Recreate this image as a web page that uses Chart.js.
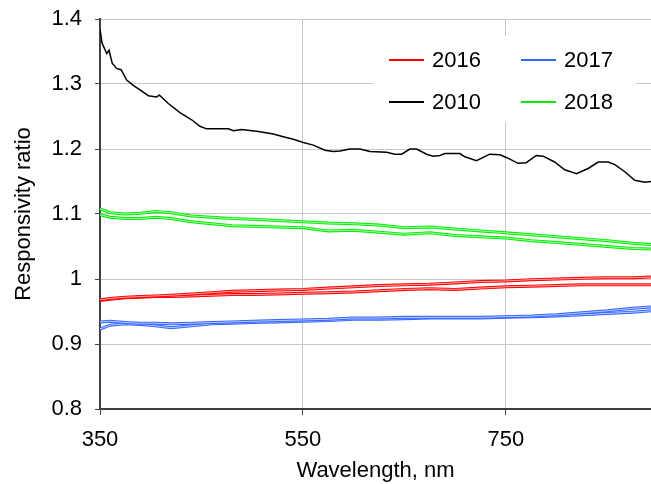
<!DOCTYPE html>
<html lang="en">
<head>
    <meta charset="UTF-8">
    <title>Responsivity ratio</title>
    <style>
        body { margin: 0; background: #fff; }
    </style>
</head>
<body>
    <canvas id="myChart" width="651" height="484"></canvas>
    <script src="https://cdn.jsdelivr.net/npm/chart.js"></script>
    <script>
        // ticks
        const xTicks = [350, 550, 750];
        const yTicks = [0.8, 0.9, 1, 1.1, 1.2, 1.3, 1.4];

        // 2010 curve (own wavelength grid, lots of wiggles)
        const wl2010 = [350, 352, 356.6, 358.9, 362, 366.4, 370.7, 376.3, 382.8, 389.4, 397.6, 405.8, 408.4, 417.3, 428.8, 440.3,
            448.5, 455, 476.5, 481.4, 489.6, 506, 520.8, 530.6, 540.5, 550.3, 560.2, 571.7, 579.9, 586.5, 596.3, 606.2,
            616, 632.5, 640.6, 647.2, 655.4, 662, 671.8, 678.4, 685, 689.9, 704.7, 709.6, 721, 734, 744, 750.5,
            762, 770, 780, 786.7, 798, 808, 819.6, 831, 841, 850.8, 857.4, 867.2, 877, 887, 893];
        const r2010 = [1.385, 1.363, 1.347, 1.352, 1.332, 1.324, 1.322, 1.306, 1.298, 1.291, 1.282, 1.280, 1.283, 1.270, 1.256, 1.245,
            1.235, 1.231, 1.231, 1.228, 1.230, 1.227, 1.223, 1.219, 1.215, 1.210, 1.206, 1.198, 1.196, 1.197, 1.200, 1.200,
            1.196, 1.195, 1.192, 1.192, 1.200, 1.200, 1.192, 1.189, 1.190, 1.193, 1.193, 1.188, 1.182, 1.192, 1.191, 1.187,
            1.178, 1.179, 1.190, 1.189, 1.180, 1.168, 1.162, 1.170, 1.180, 1.180, 1.176, 1.165, 1.152, 1.149, 1.150];

        // other years, two instruments each
        const wl = [350, 360, 375, 390, 405, 420, 440, 460, 480, 500, 525, 550, 575, 600, 625, 650, 675, 700, 725, 750, 775, 800, 825, 850, 875, 893];
        const r2018a = [1.108, 1.102, 1.100, 1.101, 1.104, 1.102, 1.097, 1.095, 1.093, 1.092, 1.090, 1.088, 1.086, 1.085, 1.083, 1.079, 1.080, 1.077, 1.074, 1.071, 1.068, 1.065, 1.062, 1.059, 1.055, 1.053];
        const r2018b = [1.099, 1.095, 1.093, 1.093, 1.095, 1.093, 1.088, 1.085, 1.082, 1.081, 1.080, 1.079, 1.074, 1.075, 1.072, 1.069, 1.071, 1.067, 1.065, 1.063, 1.059, 1.056, 1.053, 1.050, 1.047, 1.046];
        const r2016a = [0.968, 0.970, 0.972, 0.973, 0.974, 0.975, 0.977, 0.979, 0.981, 0.982, 0.983, 0.984, 0.986, 0.988, 0.990, 0.991, 0.992, 0.994, 0.996, 0.997, 0.999, 1.000, 1.001, 1.002, 1.002, 1.003];
        const r2016b = [0.967, 0.969, 0.971, 0.972, 0.973, 0.973, 0.974, 0.975, 0.976, 0.976, 0.977, 0.978, 0.979, 0.980, 0.982, 0.984, 0.985, 0.984, 0.986, 0.988, 0.989, 0.990, 0.991, 0.991, 0.991, 0.991];
        const r2017a = [0.934, 0.935, 0.933, 0.932, 0.932, 0.931, 0.932, 0.933, 0.934, 0.935, 0.936, 0.937, 0.938, 0.940, 0.940, 0.941, 0.941, 0.941, 0.941, 0.942, 0.943, 0.945, 0.948, 0.951, 0.955, 0.957];
        const r2017b = [0.923, 0.929, 0.931, 0.930, 0.928, 0.925, 0.928, 0.931, 0.932, 0.933, 0.934, 0.935, 0.936, 0.938, 0.938, 0.939, 0.940, 0.940, 0.940, 0.941, 0.942, 0.943, 0.945, 0.947, 0.949, 0.951];

        const legendOrder = ["2016", "2017", "2010", "2018"];

        const FONT = { family: "Arial, 'Liberation Sans', sans-serif", size: 22 };

        function f_pts(xs, ys) {
            return xs.map((x, i) => ({ x: x, y: ys[i] }));
        }

        function f_set(label, xs, ys, color, width, hollow) {
            return {
                label: label,
                data: f_pts(xs, ys),
                borderColor: color,
                borderWidth: width,
                pointRadius: 0,
                tension: 0,
                fill: false,
                hollow: hollow
            };
        }

        // white thin stroke through the middle of the wide lines -> "double line" look
        const hollowPlugin = {
            id: "hollow",
            afterDatasetDraw(chart, args) {
                const ds = chart.data.datasets[args.index];
                if (!ds.hollow) return;
                const pts = args.meta.data;
                const ctx = chart.ctx;
                const a = chart.chartArea;
                ctx.save();
                ctx.beginPath();
                ctx.rect(a.left, a.top, a.right - a.left, a.bottom - a.top);
                ctx.clip();
                ctx.strokeStyle = "rgba(255,255,255,0.65)";
                ctx.lineWidth = 1;
                ctx.beginPath();
                pts.forEach((p, i) => i ? ctx.lineTo(p.x, p.y) : ctx.moveTo(p.x, p.y));
                ctx.stroke();
                ctx.restore();
            }
        };

        // legend box inside the plot, 2 x 2
        const boxLegend = {
            id: "boxLegend",
            afterDraw(chart) {
                const ctx = chart.ctx;
                ctx.save();
                ctx.fillStyle = "#fff";
                ctx.fillRect(373, 36, 263, 86);
                ctx.font = FONT.size + "px " + FONT.family;
                ctx.textBaseline = "middle";
                ctx.fillStyle = "#000";
                legendOrder.forEach((name, i) => {
                    const ds = chart.data.datasets.find(d => d.label === name);
                    const x = 389 + (i % 2) * 132;
                    const y = 60 + Math.floor(i / 2) * 42;
                    ctx.strokeStyle = ds.borderColor;
                    ctx.lineWidth = 2;
                    ctx.beginPath();
                    ctx.moveTo(x, y);
                    ctx.lineTo(x + 35, y);
                    ctx.stroke();
                    ctx.fillText(name, x + 43, y + 1);
                });
                ctx.restore();
            }
        };

        const ctx = document.getElementById("myChart");

        new Chart(ctx, {
            type: "line",
            data: {
                datasets: [
                    f_set("2018", wl, r2018a, "#00ee00", 3, true),
                    f_set("2018", wl, r2018b, "#00ee00", 3, true),
                    f_set("2016", wl, r2016a, "#ff0000", 3, true),
                    f_set("2016", wl, r2016b, "#ff0000", 3, true),
                    f_set("2017", wl, r2017a, "#3366ff", 3, true),
                    f_set("2017", wl, r2017b, "#3366ff", 3, true),
                    f_set("2010", wl2010, r2010, "#000000", 1.5, false)
                ]
            },
            options: {
                responsive: false,
                animation: false,
                layout: { padding: { top: 19, right: 0, bottom: 0, left: 0 } },
                plugins: {
                    legend: { display: false },
                    tooltip: { enabled: false }
                },
                scales: {
                    x: {
                        type: "linear",
                        min: 350,
                        max: 893,
                        afterBuildTicks: s => { s.ticks = xTicks.map(v => ({ value: v })); },
                        afterFit: s => { s.height = 75; s.paddingLeft = 0; s.paddingRight = 0; },
                        grid: { color: "#c8c8c8", lineWidth: 1, tickColor: "#404040", tickLength: 6 },
                        border: { color: "#404040", width: 2 },
                        ticks: { font: FONT, color: "#000", padding: 12, maxRotation: 0 },
                        title: { display: true, text: "Wavelength, nm", font: FONT, color: "#000", padding: 0 }
                    },
                    y: {
                        min: 0.8,
                        max: 1.4,
                        afterBuildTicks: s => { s.ticks = yTicks.map(v => ({ value: v })); },
                        afterFit: s => { s.width = 100; s.paddingTop = 0; s.paddingBottom = 0; },
                        grid: { color: "#c8c8c8", lineWidth: 1, tickColor: "#404040", tickLength: 5 },
                        border: { color: "#404040", width: 2 },
                        ticks: { font: FONT, color: "#000", padding: 13, callback: v => String(v) },
                        title: { display: true, text: "Responsivity ratio", font: FONT, color: "#000", padding: { top: 11, bottom: 0 } }
                    }
                }
            },
            plugins: [hollowPlugin, boxLegend]
        });
    </script>
</body>
</html>
